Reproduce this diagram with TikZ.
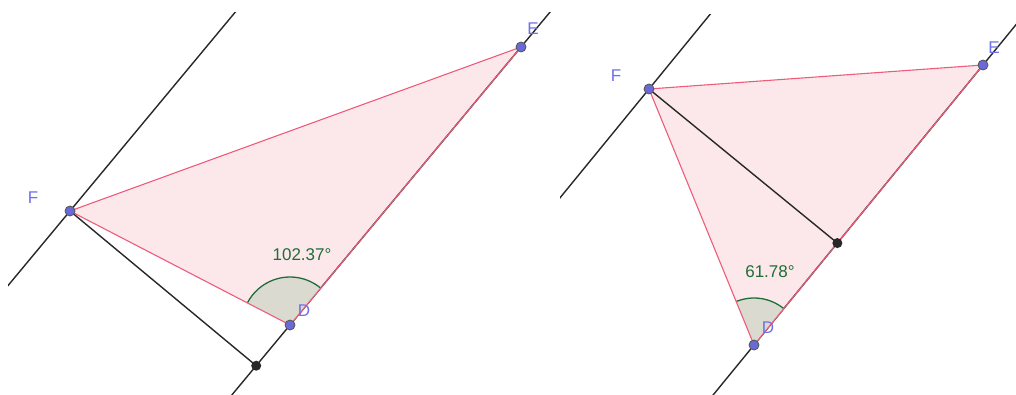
\documentclass[tikz,border=0pt]{standalone}
\usepackage{fontspec}
\setmainfont{Liberation Sans}
\usetikzlibrary{calc,angles}
\definecolor{gbline}{RGB}{40,40,40}
\definecolor{gbedge}{RGB}{238,92,122}
\definecolor{gbfill}{RGB}{252,232,234}
\definecolor{gbpoint}{RGB}{105,105,215}
\definecolor{gblabel}{RGB}{112,112,232}
\definecolor{gbgreen}{RGB}{30,110,55}
\definecolor{gbangle}{RGB}{218,218,208}

\begin{document}
\begin{tikzpicture}[x=1pt,y=1pt,
  gline/.style={draw=gbline,line width=1.4pt},
  edge/.style={draw=gbedge,line width=1.1pt,line join=round},
  pt/.style={circle,fill=gbpoint,draw=gbline!80,line width=0.8pt,inner sep=0pt,minimum size=10pt},
  foot/.style={circle,fill=gbline,inner sep=0pt,minimum size=10pt},
  lbl/.style={text=gblabel,font=\fontsize{17}{17}\selectfont},
  anglbl/.style={text=gbgreen,font=\fontsize{17}{17}\selectfont},
  ang/.style={draw=gbgreen,fill=gbangle,line width=1.3pt,angle radius=48pt}
]
\useasboundingbox (0,0) rectangle (1016,394);
\fill[white] (0,0) rectangle (1016,394);

% left view
\begin{scope}
  \clip (8,0) rectangle (552,381);
  \coordinate (F1) at (70,183);
  \coordinate (E1) at (521,347);
  \coordinate (D1) at (290,69);
  \coordinate (H1) at ($(D1)!(F1)!(E1)$);
  \coordinate (G1) at ($(F1)+(E1)-(D1)$);
  \fill[gbfill] (F1) -- (E1) -- (D1) -- cycle;
  \draw[gline] ($(D1)!-3!(E1)$) -- ($(D1)!4!(E1)$);
  \draw[gline] ($(F1)!-3!(G1)$) -- ($(F1)!3!(G1)$);
  \draw[gline] (F1) -- (H1);
  \pic[ang] {angle = E1--D1--F1};
  \draw[edge] (F1) -- (E1) -- (D1) -- cycle;
  \node[foot] (H1p) at (H1) {};
  \node[pt] (F1p) at (F1) {};
  \node[pt] (E1p) at (E1) {};
  \node[pt] (D1p) at (D1) {};
\end{scope}
\node[lbl] (F1l) at (33,196) {F};
\node[lbl] (E1l) at (533,365) {E};
\node[lbl] (D1l) at (304,83) {D};
\node[anglbl] (A1l) at (302,139) {102.37°};

% right view
\begin{scope}
  \clip (560,0) rectangle (1016,379);
  \coordinate (F2) at (649,305);
  \coordinate (E2) at (983,329);
  \coordinate (D2) at (754,49);
  \coordinate (H2) at ($(D2)!(F2)!(E2)$);
  \coordinate (G2) at ($(F2)+(E2)-(D2)$);
  \fill[gbfill] (F2) -- (E2) -- (D2) -- cycle;
  \draw[gline] ($(D2)!-3!(E2)$) -- ($(D2)!4!(E2)$);
  \draw[gline] ($(F2)!-3!(G2)$) -- ($(F2)!3!(G2)$);
  \draw[gline] (F2) -- (H2);
  \pic[ang,angle radius=47pt] {angle = E2--D2--F2};
  \draw[edge] (F2) -- (E2) -- (D2) -- cycle;
  \node[foot] (H2p) at (H2) {};
  \node[pt] (F2p) at (F2) {};
  \node[pt] (E2p) at (E2) {};
  \node[pt] (D2p) at (D2) {};
\end{scope}
\node[lbl] (F2l) at (616,318) {F};
\node[lbl] (E2l) at (994,346) {E};
\node[lbl] (D2l) at (768,66) {D};
\node[anglbl] (A2l) at (770,122) {61.78°};
\end{tikzpicture}
\end{document}
